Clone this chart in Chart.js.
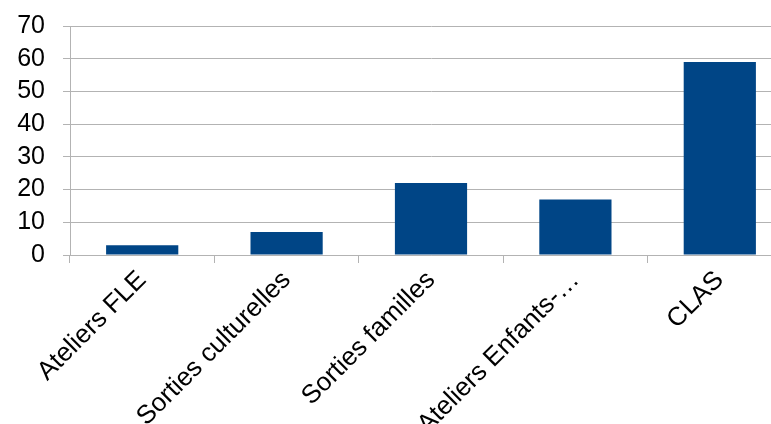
<!DOCTYPE html>
<html>
<head>
<meta charset="utf-8">
<script src="https://cdn.jsdelivr.net/npm/chart.js@4"></script>
<style>
  body { margin: 0; overflow: hidden; background: #fff; }
</style>
</head>
<body>
<canvas id="grafico" width="800" height="424"></canvas>
<script>
// categorias e valores
const categorias = ['Ateliers FLE', 'Sorties culturelles', 'Sorties familles', 'Ateliers Enfants-…', 'CLAS'];
const valores = [3, 7, 22, 17, 59];
const eixoMin = 0;
const eixoMax = 70;
const eixoPasso = 10;

const corBarra = '#004586';
const corGrade = '#b3b3b3';

const data = {
    labels: categorias,
    datasets: [{
        data: valores,
        backgroundColor: corBarra,
        borderWidth: 0,
        barPercentage: 0.5,
        categoryPercentage: 1
    }]
};

const config = {
    type: 'bar',
    data: data,
    options: {
        responsive: false,
        animation: false,
        layout: { padding: { top: 26, right: 8, left: 0, bottom: 0 } },
        plugins: { legend: { display: false }, tooltip: { enabled: false } },
        scales: {
            x: {
                afterFit: function (eixo) { eixo.height = 169; },
                grid: { offset: true, drawOnChartArea: false, drawTicks: true, tickLength: 8, color: corGrade },
                border: { color: corGrade },
                ticks: {
                    color: '#000',
                    font: { family: 'Liberation Sans', size: 26 },
                    minRotation: 45,
                    maxRotation: 45,
                    padding: 2,
                    autoSkip: false
                }
            },
            y: {
                min: eixoMin,
                max: eixoMax,
                afterFit: function (eixo) {
                    eixo.width = 70;
                    eixo.paddingTop = 0;
                    eixo.paddingBottom = 0;
                },
                grid: { color: corGrade, tickLength: 7 },
                border: { color: corGrade },
                ticks: {
                    stepSize: eixoPasso,
                    autoSkip: false,
                    color: '#000',
                    font: { family: 'Liberation Sans', size: 25 },
                    padding: 18
                }
            }
        }
    }
};

const meuGrafico = new Chart(document.getElementById('grafico'), config);
</script>
</body>
</html>
